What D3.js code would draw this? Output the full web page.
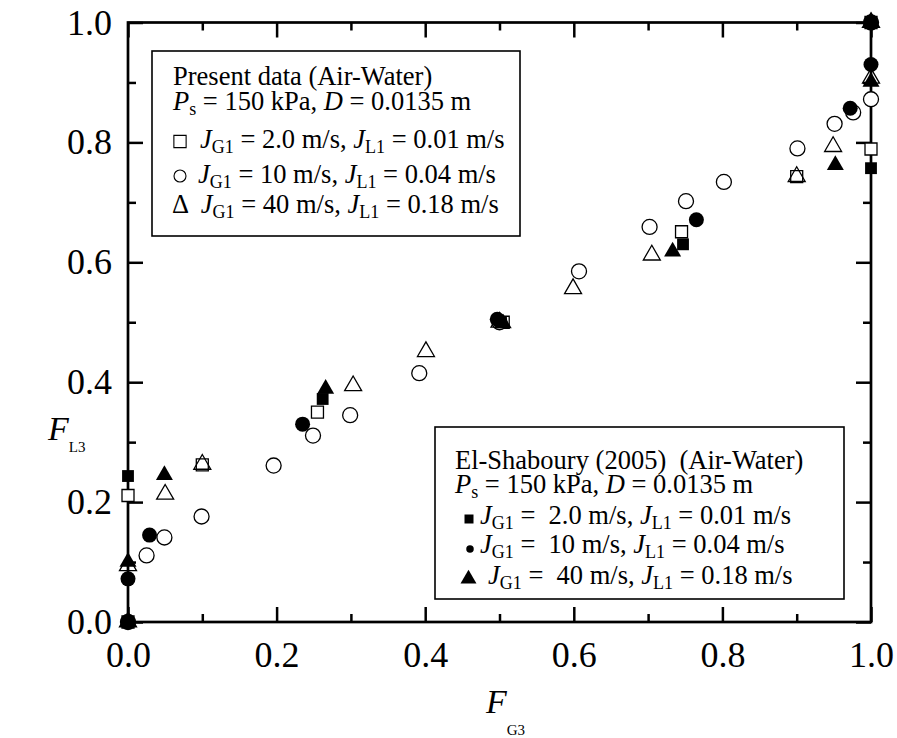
<!DOCTYPE html>
<html>
<head>
<meta charset="utf-8">
<script src="https://cdn.jsdelivr.net/npm/d3@7"></script>
<style>
  body { margin: 0; background: #fff; }
  svg { display: block; }
  text { font-family: "Liberation Serif", "Times New Roman", serif; fill: #000; white-space: pre; }
</style>
</head>
<body>
<svg id="chart" width="897" height="738"></svg>
<script>
// ---- Present data (Air-Water), open markers: [F_G3, F_L3]
const presentJG2 = [[0,0],[0,0.211],[0.1,0.262],[0.255,0.35],[0.505,0.5],[0.745,0.651],[0.9,0.743],[1,0.789],[1,1]];
const presentJG10 = [[0,0],[0.025,0.111],[0.049,0.141],[0.099,0.176],[0.196,0.261],[0.249,0.311],[0.299,0.345],
  [0.392,0.415],[0.5,0.5],[0.607,0.585],[0.702,0.659],[0.751,0.702],[0.802,0.734],[0.901,0.79],[0.951,0.831],
  [0.976,0.85],[1,0.872],[1,1]];
const presentJG40 = [[0,0],[0,0.094],[0.05,0.213],[0.1,0.263],[0.303,0.394],[0.401,0.451],[0.5,0.5],[0.599,0.556],
  [0.705,0.612],[0.9,0.743],[0.949,0.793],[1,0.907],[1,1]];

// ---- El-Shaboury (2005), filled markers
const elshJG2 = [[0,0],[0,0.2435],[0.262,0.372],[0.502,0.5],[0.747,0.63],[1,0.757],[1,1]];
const elshJG10 = [[0,0],[0,0.072],[0.029,0.145],[0.235,0.33],[0.497,0.505],[0.765,0.671],[0.972,0.857],[1,0.93],[1,1]];
const elshJG40 = [[0,0],[0,0.1005],[0.049,0.245],[0.266,0.389],[0.505,0.498],[0.733,0.618],[0.952,0.762],[1,0.901],[1,1]];

// ---- Axis ticks
const majorTicks = [0, 0.2, 0.4, 0.6, 0.8, 1.0];
const minorTicks = [0.1, 0.3, 0.5, 0.7, 0.9];
const tickLabels = ["0.0", "0.2", "0.4", "0.6", "0.8", "1.0"];

const svg = d3.select("#chart");
const x = d3.scaleLinear().domain([0, 1]).range([128, 871]);
const y = d3.scaleLinear().domain([0, 1]).range([622, 22.5]);

// Inward ticks on all four sides
function styleAxis(g) {
  g.attr("font-family", null).attr("font-size", null);
  g.select(".domain").remove();
  g.selectAll(".tick line").attr("stroke", "#000").attr("stroke-width", 2.5);
  g.selectAll(".tick text").attr("font-size", 36).style("fill", "#000");
}
const labelFmt = d => tickLabels[majorTicks.indexOf(d)];

svg.append("g").attr("transform", "translate(0,622)")
  .call(d3.axisBottom(x).tickValues(majorTicks).tickSize(-15).tickPadding(19).tickFormat(labelFmt)).call(styleAxis);
svg.append("g").attr("transform", "translate(0,622)")
  .call(d3.axisBottom(x).tickValues(minorTicks).tickSize(-8).tickFormat("")).call(styleAxis);
svg.append("g").attr("transform", "translate(128,0)")
  .call(d3.axisLeft(y).tickValues(majorTicks).tickSize(-15).tickPadding(16).tickFormat(labelFmt)).call(styleAxis);
svg.append("g").attr("transform", "translate(128,0)")
  .call(d3.axisLeft(y).tickValues(minorTicks).tickSize(-8).tickFormat("")).call(styleAxis);
svg.append("g").attr("transform", "translate(0,22.5)")
  .call(d3.axisTop(x).tickValues(majorTicks).tickSize(-15).tickFormat("")).call(styleAxis);
svg.append("g").attr("transform", "translate(0,22.5)")
  .call(d3.axisTop(x).tickValues(minorTicks).tickSize(-8).tickFormat("")).call(styleAxis);
svg.append("g").attr("transform", "translate(871,0)")
  .call(d3.axisRight(y).tickValues(majorTicks).tickSize(-15).tickFormat("")).call(styleAxis);
svg.append("g").attr("transform", "translate(871,0)")
  .call(d3.axisRight(y).tickValues(minorTicks).tickSize(-8).tickFormat("")).call(styleAxis);

// Plot frame
svg.append("rect")
  .attr("x", x(0)).attr("y", y(1))
  .attr("width", x(1) - x(0)).attr("height", y(0) - y(1))
  .attr("fill", "none").attr("stroke", "#000").attr("stroke-width", 2.7);

// Multi-line text block; each line is a list of segments (italic / subscript)
function textBlock(g, lines, size) {
  const t = g.append("text").attr("font-size", size);
  const subSize = size * 0.68, subDy = size * 0.17;
  lines.forEach(line => {
    const lt = t.append("tspan").attr("x", line.x).attr("y", line.y);
    let down = false;
    line.segs.forEach(s => {
      const ts = lt.append("tspan").text(s.t);
      if (s.i) ts.attr("font-style", "italic");
      if (s.sub) {
        ts.attr("font-size", subSize);
        if (!down) { ts.attr("dy", subDy); down = true; }
      } else if (down) {
        ts.attr("dy", -subDy); down = false;
      }
    });
  });
  return t;
}
const jSegs = (jg, jl, gap) => [
  { t: "J", i: true }, { t: "G1", sub: true }, { t: " =" + gap + jg + " m/s, " },
  { t: "J", i: true }, { t: "L1", sub: true }, { t: " = " + jl + " m/s" }
];
const psSegs = [{ t: "P", i: true }, { t: "s", sub: true }, { t: " = 150 kPa, " }, { t: "D", i: true }, { t: " = 0.0135 m" }];

// Legend boxes
const legend1 = svg.append("g");
legend1.append("rect").attr("x", 152).attr("y", 51).attr("width", 368).attr("height", 185)
  .attr("fill", "#fff").attr("stroke", "#000").attr("stroke-width", 1.6);
const legend2 = svg.append("g");
legend2.append("rect").attr("x", 435).attr("y", 427).attr("width", 409).attr("height", 172)
  .attr("fill", "#fff").attr("stroke", "#000").attr("stroke-width", 1.6);

// Data markers: open (present data) first, filled (El-Shaboury) on top
const sym = (type, size) => d3.symbol().type(type).size(size);
const series = [
  { data: presentJG2, type: d3.symbolSquare, size: 144, fill: "#fff", stroke: "#000" },
  { data: presentJG10, type: d3.symbolCircle, size: 177, fill: "#fff", stroke: "#000" },
  { data: presentJG40, type: d3.symbolTriangle, size: 125, fill: "none", stroke: "#000" },
  { data: elshJG2, type: d3.symbolSquare, size: 140, fill: "#000", stroke: "none" },
  { data: elshJG10, type: d3.symbolCircle, size: 177, fill: "#000", stroke: "none" },
  { data: elshJG40, type: d3.symbolTriangle, size: 125, fill: "#000", stroke: "none" }
];
const marks = svg.append("g");
series.forEach(s => {
  marks.append("g").selectAll("path").data(s.data).join("path")
    .attr("transform", d => `translate(${x(d[0])},${y(d[1])})`)
    .attr("d", sym(s.type, s.size)())
    .attr("fill", s.fill).attr("stroke", s.stroke).attr("stroke-width", 1.3);
});

// Legend 1 content
const fs = 26.5;
legend1.append("path").attr("transform", "translate(180,141.5)").attr("d", sym(d3.symbolSquare, 150)())
  .attr("fill", "none").attr("stroke", "#000").attr("stroke-width", 1.1);
legend1.append("path").attr("transform", "translate(180,176)").attr("d", sym(d3.symbolCircle, 113)())
  .attr("fill", "none").attr("stroke", "#000").attr("stroke-width", 1.1);
textBlock(legend1, [
  { x: 173, y: 85, segs: [{ t: "Present data (Air-Water)" }] },
  { x: 173, y: 110, segs: psSegs },
  { x: 200, y: 148, segs: jSegs("2.0", "0.01", " ") },
  { x: 198, y: 183, segs: jSegs("10", "0.04", " ") },
  { x: 172, y: 213, segs: [{ t: "Δ  " }].concat(jSegs("40", "0.18", " ")) }
], fs);

// Legend 2 content
legend2.append("path").attr("transform", "translate(469,519)").attr("d", sym(d3.symbolSquare, 81)()).attr("fill", "#000");
legend2.append("path").attr("transform", "translate(470,549)").attr("d", sym(d3.symbolCircle, 44)()).attr("fill", "#000");
legend2.append("path").attr("transform", "translate(468.5,579)").attr("d", sym(d3.symbolTriangle, 110)()).attr("fill", "#000");
textBlock(legend2, [
  { x: 455, y: 469, segs: [{ t: "El-Shaboury (2005)  (Air-Water)" }] },
  { x: 455, y: 493, segs: psSegs },
  { x: 480, y: 524, segs: jSegs("2.0", "0.01", "  ") },
  { x: 480, y: 553, segs: jSegs("10", "0.04", "  ") },
  { x: 488, y: 584, segs: jSegs("40", "0.18", "  ") }
], fs);

// Axis titles
const yTitle = svg.append("text").attr("x", 48).attr("y", 440).attr("font-size", 34);
yTitle.append("tspan").attr("font-style", "italic").text("F");
yTitle.append("tspan").attr("font-size", 15).attr("dy", 12).text("L3");
const xTitle = svg.append("text").attr("x", 486).attr("y", 713).attr("font-size", 34);
xTitle.append("tspan").attr("font-style", "italic").text("F");
xTitle.append("tspan").attr("font-size", 15).attr("dy", 22).text("G3");
</script>
</body>
</html>
